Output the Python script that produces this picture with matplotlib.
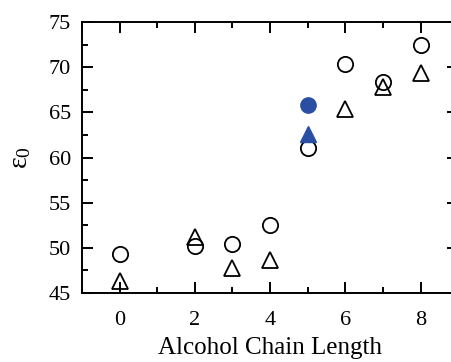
import matplotlib
matplotlib.use("Agg")
import matplotlib.pyplot as plt
from matplotlib.ticker import MultipleLocator

#----- Data -----
chain_length = [0, 2, 3, 4, 5, 6, 7, 8]
eps_circle = [49.3, 50.2, 50.4, 52.5, 61.0, 70.4, 68.4, 72.5]
eps_triangle = [46.3, 51.2, 47.8, 48.6, None, 65.4, 67.8, 69.3]
# highlighted points at chain length 5
hl_x = 5
hl_circle = 65.8
hl_triangle = 62.6

blue = "#2a4ea3"

#----- Plot -----
plt.rcParams.update({
    "font.family": "Liberation Serif",
    "mathtext.fontset": "custom",
    "mathtext.rm": "Liberation Serif",
    "mathtext.it": "Liberation Serif",
})

fig = plt.figure(figsize=(4.51, 3.62), dpi=100)
ax = fig.add_axes([0.1818, 0.1906, 0.834, 0.7486])

ax.plot(chain_length, eps_circle, "o", ms=11, mfc="none", mec="black", mew=1.3)
tri_x = [x for x, y in zip(chain_length, eps_triangle) if y is not None]
tri_y = [y for y in eps_triangle if y is not None]
ax.plot(tri_x, tri_y, "^", ms=12, mfc="none", mec="black", mew=1.3)
ax.plot(hl_x, hl_circle, "o", ms=11, color=blue, mec=blue)
ax.plot(hl_x, hl_triangle, "^", ms=12, color=blue, mec=blue)

ax.set_xlim(-1, 9)
ax.set_ylim(45, 75)
ax.xaxis.set_major_locator(MultipleLocator(2))
ax.xaxis.set_minor_locator(MultipleLocator(1))
ax.yaxis.set_major_locator(MultipleLocator(5))
ax.yaxis.set_minor_locator(MultipleLocator(2.5))

ax.tick_params(which="both", direction="in", top=True, right=True, width=1.4)
ax.tick_params(which="major", length=8, labelsize=16)
ax.tick_params(which="minor", length=4.5)
ax.tick_params(axis="x", pad=13)
ax.tick_params(axis="y", pad=8)
for s in ax.spines.values():
    s.set_linewidth(1.4)

ax.set_xlabel("Alcohol Chain Length", fontsize=18, labelpad=5)
ax.set_ylabel(r"$\mathrm{ε}_0$", fontsize=20)
ax.yaxis.set_label_coords(-0.13, 0.5)

fig.savefig("out.png", dpi=100)
